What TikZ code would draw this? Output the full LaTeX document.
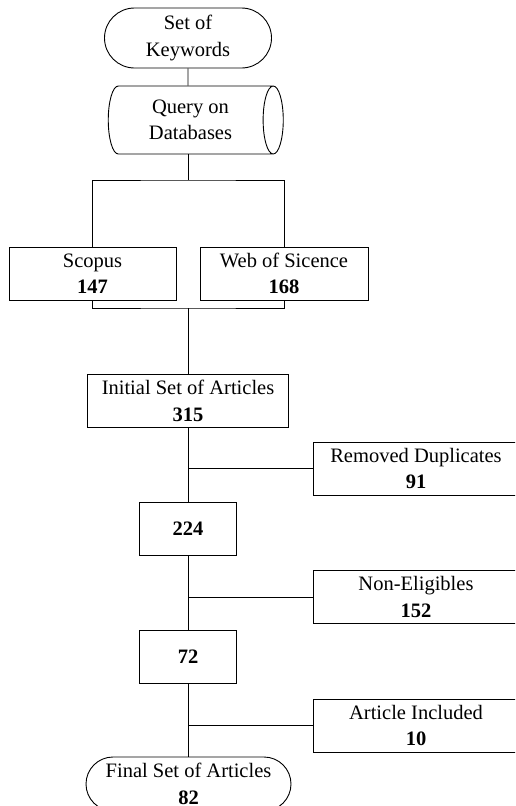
\documentclass[tikz,border=0pt]{standalone}
\usepackage{fontspec}
\setmainfont{Liberation Serif}
\usetikzlibrary{shapes.geometric,shapes.misc}

\begin{document}
\begin{tikzpicture}[x=1pt,y=-1pt,line width=0.9pt,
    every node/.style={font=\fontsize{20.5}{26.5}\selectfont,align=center,inner sep=0pt},
    box/.style={draw,fill=white,minimum height=53pt},
    terminal/.style={draw,fill=white,rounded rectangle},
    storage/.style={draw,fill=white,cylinder,aspect=0.5,minimum height=175pt,minimum width=68pt}]
      % \draw[help lines](0,0) grid (515,806);
      \clip (0,0) rectangle (515,806);

      \draw (188,38) node[terminal,minimum width=167pt,minimum height=60pt] (keywords) {Set of\\Keywords};
      \draw (190.5,120) node[storage] (query) {Query on\\Databases};

      \draw (92.5,273.5) node[box,minimum width=167pt] (scopus) {Scopus\\\textbf{147}};
      \draw (284,273.5) node[box,minimum width=168pt] (wos) {Web of Sicence\\\textbf{168}};

      \draw (188,401) node[box,minimum width=201pt] (initial) {Initial Set of Articles\\\textbf{315}};
      \draw (416,468.5) node[box,minimum width=206pt] (removed) {Removed Duplicates\\\textbf{91}};
      \draw (188,528.5) node[box,minimum width=97pt] (n224) {\textbf{224}};
      \draw (416,597) node[box,minimum width=206pt] (noneligible) {Non-Eligibles\\\textbf{152}};
      \draw (188,656.5) node[box,minimum width=97pt] (n72) {\textbf{72}};
      \draw (416,725.5) node[box,minimum width=206pt] (included) {Article Included\\\textbf{10}};
      \draw (188.5,784) node[terminal,minimum width=205pt,minimum height=54pt] (final) {Final Set of Articles\\\textbf{82}};

      \coordinate (split) at (188,180);
      \coordinate (join) at (188,308);

      \draw (keywords) -- (keywords |- query.north);
      \draw (keywords |- query.south) -- (split);
      \draw (scopus.north) |- (split) -| (wos.north);
      \draw (scopus.south) |- (join) -| (wos.south);
      \draw (join) -- (initial);
      \draw (initial) -- (n224);
      \draw (n224) -- (n72);
      \draw (n72) -- (final.north -| n72);
      \draw (removed) -- (removed -| initial.south);
      \draw (noneligible) -- (noneligible -| n224.south);
      \draw (included) -- (included -| n72.south);
    \end{tikzpicture}
\end{document}
